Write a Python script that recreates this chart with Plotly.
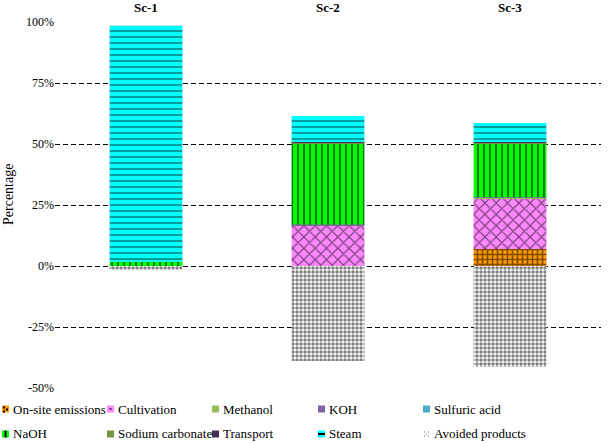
import plotly.graph_objects as go

scenarios = ['Sc-1', 'Sc-2', 'Sc-3']

onsite_emissions = [0.0, 0.0, 7.0]
cultivation = [0.0, 16.5, 20.7]
methanol = [0.0, 0.3, 0.3]
koh = [0.0, 0.2, 0.2]
sulfuric_acid = [0.0, 0.0, 0.0]
naoh = [1.7, 33.3, 22.1]
sodium_carbonate = [0.0, 0.3, 0.3]
transport = [0.0, 0.2, 0.2]
steam = [96.8, 10.7, 7.8]
avoided_products = [-1.5, -38.9, -41.4]

y_ticks = [-50, -25, 0, 25, 50, 75, 100]

FONT = 'Liberation Serif, Times New Roman, serif'

# plot area in pixels (608x443 page)
PL, PT, PW, PH = 55, 22, 546, 366


def px(x):
    return (x - PL) / PW


def py(y):
    return (PT + PH - y) / PH


series = [
    ('On-site emissions', onsite_emissions, '#FF9900', dict(shape='+', fgcolor='black', size=5, solidity=0.55)),
    ('Cultivation', cultivation, '#FF88FF', dict(shape='x', fgcolor='black', size=8, solidity=0.3)),
    ('Methanol', methanol, '#9BBB59', None),
    ('KOH', koh, '#8064A2', None),
    ('Sulfuric acid', sulfuric_acid, '#4BACC6', None),
    ('NaOH', naoh, '#00FF00', dict(shape='|', fgcolor='black', size=6, solidity=0.35)),
    ('Sodium carbonate', sodium_carbonate, '#77933C', None),
    ('Transport', transport, '#403152', None),
    ('Steam', steam, '#00FFFF', dict(shape='-', fgcolor='black', size=6, solidity=0.25)),
    ('Avoided products', avoided_products, '#FFFFFF', dict(shape='.', fgcolor='black', size=4, solidity=0.6)),
]

fig = go.Figure()
for name, vals, color, pattern in series:
    marker = dict(color=color, line=dict(width=0))
    if pattern:
        marker['pattern'] = pattern
    fig.add_trace(go.Bar(x=scenarios, y=vals, name=name, marker=marker, width=0.4, showlegend=False))

# hand-made legend: small squares + labels, 5 columns x 2 rows
col_x = [2, 107, 212, 318, 423]
row_y = [409, 434]
shapes = []
annotations = []
for i, (name, vals, color, pattern) in enumerate(series):
    cx = col_x[i % 5]
    cy = row_y[i // 5]
    x0, x1, y0, y1 = cx, cx + 7, cy - 3.5, cy + 3.5
    shapes.append(dict(type='rect', xref='paper', yref='paper',
                       x0=px(x0), x1=px(x1), y0=py(y1), y1=py(y0),
                       fillcolor=color, line=dict(width=0), layer='above'))
    marks = []
    shape = pattern['shape'] if pattern else ''
    if shape == '|':
        marks = [(x0 + 2.5, y0, x0 + 4.5, y1)]
    elif shape == '-':
        marks = [(x0, cy - 1, x1, cy + 1)]
    elif shape == '+':
        marks = [(x0 + 1, y0 + 1, x0 + 3, y0 + 3), (x0 + 4, y0 + 3, x0 + 6, y0 + 5), (x0 + 1, y0 + 5, x0 + 3, y1)]
    elif shape == 'x':
        marks = [(x0 + 2.5, y0 + 2.5, x0 + 4.5, y0 + 4.5)]
    elif shape == '.':
        marks = [(x0 + 1, y0 + 1, x0 + 2, y0 + 2), (x0 + 5, y0 + 1, x0 + 6, y0 + 2),
                 (x0 + 3, y0 + 3, x0 + 4, y0 + 4), (x0 + 1, y0 + 5, x0 + 2, y0 + 6),
                 (x0 + 5, y0 + 5, x0 + 6, y0 + 6)]
    mcol = '#7A1F7A' if shape == 'x' else ('#666666' if shape == '.' else 'black')
    for a, b, c, d in marks:
        shapes.append(dict(type='rect', xref='paper', yref='paper',
                           x0=px(a), x1=px(c), y0=py(d), y1=py(b),
                           fillcolor=mcol, line=dict(width=0), layer='above'))
    annotations.append(dict(text=name, xref='paper', yref='paper', x=px(cx + 9), y=py(cy),
                            xanchor='left', yanchor='middle', showarrow=False,
                            font=dict(family=FONT, size=13, color='black')))

# scenario labels above the bars
for s in scenarios:
    annotations.append(dict(text='<b>%s</b>' % s, xref='x', yref='paper', x=s, y=py(8),
                            xanchor='center', yanchor='middle', showarrow=False,
                            font=dict(family=FONT, size=13, color='black')))

annotations.append(dict(text='Percentage', xref='paper', yref='paper', x=px(8), y=py(195),
                        textangle=-90, xanchor='center', yanchor='middle', showarrow=False,
                        font=dict(family=FONT, size=14, color='black')))

fig.update_layout(
    barmode='relative',
    width=608, height=443,
    margin=dict(l=PL, r=608 - PL - PW, t=PT, b=443 - PT - PH),
    paper_bgcolor='white', plot_bgcolor='white',
    font=dict(family=FONT, size=12, color='black'),
    showlegend=False,
    shapes=shapes,
    annotations=annotations,
    xaxis=dict(
        showline=False, showgrid=False, ticks='', automargin=False,
        showticklabels=False, range=[-0.5, 2.5],
    ),
    yaxis=dict(
        range=[-50, 100], tickmode='array', tickvals=y_ticks, automargin=False,
        ticktext=['%d%%' % v for v in y_ticks],
        tickfont=dict(family=FONT, size=12),
        showgrid=True, gridcolor='black', gridwidth=1, griddash='5px,3px',
        zeroline=False, showline=False, ticks='',
    ),
)

# drop the default 8px body margin so the figure fills the window
fig.write_html("out.html", config={'displayModeBar': False},
               post_script="document.body.style.margin='0px';")
